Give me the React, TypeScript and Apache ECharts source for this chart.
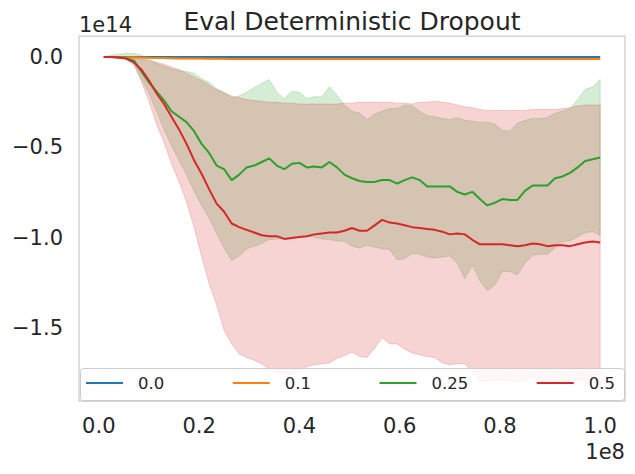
import React, { useEffect, useRef } from "react";
import * as echarts from "echarts";

// x positions (units of 1e8 env steps)
const STEPS = [
  0.010, 0.025, 0.040, 0.055, 0.070, 0.085, 0.100, 0.115, 0.130, 0.145,
  0.160, 0.175, 0.190, 0.205, 0.220, 0.235, 0.250, 0.265, 0.280, 0.295,
  0.310, 0.325, 0.340, 0.355, 0.370, 0.385, 0.400, 0.415, 0.430, 0.445,
  0.460, 0.475, 0.490, 0.505, 0.520, 0.535, 0.550, 0.565, 0.580, 0.595,
  0.610, 0.625, 0.640, 0.655, 0.670, 0.685, 0.700, 0.715, 0.730, 0.745,
  0.760, 0.775, 0.790, 0.805, 0.820, 0.835, 0.850, 0.865, 0.880, 0.895,
  0.910, 0.925, 0.940, 0.955, 0.970, 0.985, 1.000,
];

const CATEGORIES = ["0.0", "0.1", "0.25", "0.5"];
const COLORS = ["#1f77b4", "#ff7f0e", "#2ca02c", "#d62728"];

// values in units of 1e14
const MEAN_00 = [
  0, 0, 0, 0, 0, 0, 0, 0, 0, 0,
  0, 0, 0, 0, 0, 0, 0, 0, 0, 0,
  0, 0, 0, 0, 0, 0, 0, 0, 0, 0,
  0, 0, 0, 0, 0, 0, 0, 0, 0, 0,
  0, 0, 0, 0, 0, 0, 0, 0, 0, 0,
  0, 0, 0, 0, 0, 0, 0, 0, 0, 0,
  0, 0, 0, 0, 0, 0, 0,
];

const MEAN_01 = [
  0, 0, -0.001, -0.001, -0.002, -0.003, -0.004, -0.005, -0.006, -0.007,
  -0.008, -0.008, -0.009, -0.009, -0.010, -0.010, -0.010, -0.011, -0.011, -0.011,
  -0.011, -0.011, -0.011, -0.011, -0.011, -0.011, -0.011, -0.011, -0.011, -0.011,
  -0.011, -0.011, -0.011, -0.011, -0.011, -0.011, -0.011, -0.011, -0.011, -0.011,
  -0.011, -0.011, -0.011, -0.011, -0.011, -0.011, -0.011, -0.011, -0.011, -0.011,
  -0.011, -0.011, -0.011, -0.011, -0.011, -0.011, -0.011, -0.011, -0.011, -0.011,
  -0.011, -0.011, -0.011, -0.011, -0.011, -0.011, -0.011,
];
const UP_01 = [
  0, 0, 0, 0, 0, -0.001, -0.002, -0.003, -0.003, -0.004,
  -0.005, -0.005, -0.006, -0.006, -0.007, -0.007, -0.007, -0.008, -0.008, -0.008,
  -0.008, -0.008, -0.008, -0.008, -0.008, -0.008, -0.008, -0.008, -0.008, -0.008,
  -0.008, -0.008, -0.008, -0.008, -0.008, -0.008, -0.008, -0.008, -0.008, -0.008,
  -0.008, -0.008, -0.008, -0.008, -0.008, -0.008, -0.008, -0.008, -0.008, -0.008,
  -0.008, -0.008, -0.008, -0.008, -0.008, -0.008, -0.008, -0.008, -0.008, -0.008,
  -0.008, -0.008, -0.008, -0.008, -0.008, -0.008, -0.008,
];
const LO_01 = [
  0, 0, -0.002, -0.003, -0.004, -0.006, -0.007, -0.008, -0.009, -0.010,
  -0.011, -0.012, -0.013, -0.013, -0.014, -0.014, -0.015, -0.016, -0.016, -0.016,
  -0.016, -0.016, -0.016, -0.016, -0.016, -0.016, -0.016, -0.016, -0.016, -0.016,
  -0.016, -0.016, -0.016, -0.016, -0.016, -0.016, -0.016, -0.016, -0.016, -0.016,
  -0.016, -0.016, -0.016, -0.016, -0.016, -0.016, -0.016, -0.016, -0.016, -0.016,
  -0.016, -0.016, -0.016, -0.016, -0.016, -0.016, -0.016, -0.016, -0.016, -0.016,
  -0.016, -0.016, -0.016, -0.016, -0.016, -0.016, -0.016,
];

const MEAN_025 = [
  0, 0, -0.003, -0.006, -0.02, -0.08, -0.14, -0.19, -0.24, -0.30,
  -0.33, -0.36, -0.41, -0.48, -0.53, -0.60, -0.62, -0.68, -0.65, -0.61,
  -0.60, -0.58, -0.56, -0.60, -0.62, -0.59, -0.585, -0.61, -0.605, -0.61,
  -0.58, -0.61, -0.65, -0.67, -0.685, -0.69, -0.69, -0.68, -0.68, -0.70,
  -0.68, -0.665, -0.68, -0.715, -0.715, -0.715, -0.715, -0.745, -0.76, -0.745,
  -0.785, -0.82, -0.805, -0.785, -0.79, -0.79, -0.74, -0.71, -0.71, -0.71,
  -0.67, -0.66, -0.64, -0.61, -0.575, -0.565, -0.555,
];
const UP_025 = [
  0, 0.01, 0.015, 0.02, 0.02, 0.01, -0.01, -0.035, -0.05, -0.065,
  -0.075, -0.08, -0.09, -0.12, -0.14, -0.175, -0.195, -0.225, -0.215, -0.195,
  -0.17, -0.145, -0.125, -0.195, -0.23, -0.19, -0.195, -0.23, -0.22, -0.22,
  -0.165, -0.21, -0.265, -0.30, -0.31, -0.345, -0.315, -0.30, -0.285, -0.285,
  -0.265, -0.27, -0.30, -0.325, -0.33, -0.34, -0.345, -0.335, -0.35, -0.355,
  -0.36, -0.36, -0.37, -0.405, -0.41, -0.365, -0.35, -0.34, -0.34, -0.335,
  -0.31, -0.30, -0.285, -0.235, -0.18, -0.165, -0.125,
];
const LO_025 = [
  0, -0.003, -0.005, -0.01, -0.035, -0.12, -0.20, -0.30, -0.40, -0.49,
  -0.57, -0.65, -0.74, -0.82, -0.89, -0.975, -1.055, -1.125, -1.10, -1.06,
  -1.045, -1.03, -1.01, -1.005, -1.005, -1.00, -0.995, -0.99, -0.995, -1.005,
  -1.01, -1.015, -1.02, -1.045, -1.055, -1.04, -1.05, -1.06, -1.065, -1.12,
  -1.115, -1.085, -1.09, -1.105, -1.11, -1.105, -1.10, -1.14, -1.225, -1.15,
  -1.235, -1.29, -1.26, -1.185, -1.185, -1.205, -1.14, -1.095, -1.09, -1.09,
  -1.055, -1.02, -1.015, -0.995, -0.97, -0.965, -0.985,
];

const MEAN_05 = [
  0, 0, -0.003, -0.01, -0.03, -0.07, -0.13, -0.20, -0.26, -0.33,
  -0.40, -0.48, -0.57, -0.645, -0.73, -0.81, -0.855, -0.92, -0.94, -0.955,
  -0.97, -0.985, -0.99, -0.99, -1.005, -1.00, -0.995, -0.99, -0.98, -0.975,
  -0.97, -0.97, -0.96, -0.945, -0.96, -0.96, -0.93, -0.90, -0.915, -0.92,
  -0.93, -0.94, -0.945, -0.95, -0.955, -0.965, -0.98, -0.975, -0.98, -1.01,
  -1.035, -1.035, -1.035, -1.035, -1.04, -1.045, -1.04, -1.03, -1.035, -1.045,
  -1.04, -1.04, -1.045, -1.035, -1.025, -1.02, -1.025,
];
const UP_05 = [
  0, 0, 0, -0.003, -0.005, -0.01, -0.02, -0.03, -0.04, -0.055,
  -0.07, -0.09, -0.11, -0.13, -0.155, -0.18, -0.20, -0.215, -0.225, -0.235,
  -0.24, -0.245, -0.25, -0.25, -0.255, -0.255, -0.26, -0.26, -0.26, -0.26,
  -0.26, -0.26, -0.255, -0.255, -0.25, -0.25, -0.25, -0.25, -0.25, -0.255,
  -0.255, -0.26, -0.25, -0.25, -0.245, -0.25, -0.255, -0.265, -0.275, -0.28,
  -0.29, -0.295, -0.295, -0.295, -0.295, -0.295, -0.295, -0.29, -0.29, -0.29,
  -0.29, -0.285, -0.28, -0.27, -0.265, -0.265, -0.265,
];
const LO_05 = [
  0, -0.003, -0.005, -0.01, -0.045, -0.135, -0.245, -0.37, -0.47, -0.59,
  -0.69, -0.80, -0.94, -1.10, -1.25, -1.37, -1.51, -1.585, -1.64, -1.66,
  -1.675, -1.695, -1.725, -1.74, -1.75, -1.75, -1.73, -1.71, -1.70, -1.695,
  -1.69, -1.665, -1.65, -1.63, -1.655, -1.66, -1.61, -1.55, -1.585, -1.585,
  -1.615, -1.635, -1.645, -1.655, -1.66, -1.69, -1.70, -1.695, -1.695, -1.74,
  -1.79, -1.79, -1.785, -1.785, -1.79, -1.795, -1.785, -1.775, -1.78, -1.79,
  -1.795, -1.79, -1.785, -1.785, -1.785, -1.79, -1.795,
];

const X_TICKS = [0, 0.2, 0.4, 0.6, 0.8, 1.0];
const Y_TICKS = [0, -0.5, -1.0, -1.5];

const FONT = "DejaVu Sans";
const TEXT = "#262626";

function rgba(hex: string, a: number) {
  const n = parseInt(hex.slice(1), 16);
  return `rgba(${(n >> 16) & 255},${(n >> 8) & 255},${n & 255},${a})`;
}

function fmt(v: number) {
  return (v < 0 ? "\u2212" : "") + Math.abs(v).toFixed(1);
}

function lineSeries(name: string, values: number[], color: string) {
  return {
    type: "line",
    name,
    data: STEPS.map((x, i) => [x, values[i]]),
    showSymbol: false,
    symbol: "none",
    color,
    lineStyle: { color, width: 2 },
    emphasis: { disabled: true },
    silent: true,
  };
}

function bandSeries(name: string, up: number[], lo: number[], color: string) {
  return {
    type: "custom",
    name: name + " band",
    silent: true,
    data: [[STEPS[0], up[0]]],
    renderItem: (params: any, api: any) => {
      if (params.dataIndex !== 0) return null;
      const pts: number[][] = [];
      for (let i = 0; i < STEPS.length; i++) pts.push(api.coord([STEPS[i], up[i]]));
      for (let i = STEPS.length - 1; i >= 0; i--) pts.push(api.coord([STEPS[i], lo[i]]));
      return {
        type: "polygon",
        shape: { points: pts },
        style: { fill: rgba(color, 0.2), stroke: rgba(color, 0.2), lineWidth: 1 },
      };
    },
  };
}

export default function App() {
  const ref = useRef<HTMLDivElement>(null);
  useEffect(() => {
    if (!ref.current) return;
    const chart = echarts.init(ref.current, undefined, { renderer: "svg" });
    chart.setOption({
      animation: false,
      backgroundColor: "#ffffff",
      grid: {
        left: 79,
        top: 36,
        width: 546,
        height: 365,
        show: true,
        borderColor: "#cccccc",
        borderWidth: 1.25,
        containLabel: false,
      },
      xAxis: {
        type: "value",
        min: -0.0395,
        max: 1.0495,
        axisLine: { show: false },
        axisTick: { show: false },
        splitLine: { show: false },
        axisLabel: {
          customValues: X_TICKS,
          formatter: (v: number) => v.toFixed(1),
          fontSize: 21,
          fontFamily: FONT,
          color: TEXT,
          margin: 14,
        },
      },
      yAxis: {
        type: "value",
        min: -1.9006,
        max: 0.116,
        axisLine: { show: false },
        axisTick: { show: false },
        splitLine: { show: false },
        axisLabel: {
          customValues: Y_TICKS,
          formatter: (v: number) => fmt(v),
          fontSize: 21,
          fontFamily: FONT,
          color: TEXT,
          margin: 16,
          padding: [3, 0, 0, 0],
        },
      },
      legend: {
        data: CATEGORIES,
        left: 86,
        top: 373,
        padding: 0,
        icon: "rect",
        itemWidth: 37,
        itemHeight: 2,
        itemGap: 68.5,
        z: 200,
        selectedMode: false,
        textStyle: {
          fontSize: 16.5,
          fontFamily: FONT,
          color: TEXT,
          lineHeight: 20,
          padding: [0, 0, 0, 10],
        },
      },
      graphic: [
        {
          type: "rect",
          z: 100,
          shape: { x: 80.5, y: 368.5, width: 544, height: 32, r: 3 },
          style: { fill: "rgba(255,255,255,0.8)", stroke: "#cccccc", lineWidth: 1 },
          silent: true,
        },
        {
          type: "text",
          x: 352,
          y: 21,
          style: {
            text: "Eval Deterministic Dropout",
            fontSize: 25,
            fontFamily: FONT,
            fill: TEXT,
            textAlign: "center",
            textVerticalAlign: "middle",
          },
        },
        {
          type: "text",
          x: 79,
          y: 25,
          style: {
            text: "1e14",
            fontSize: 21,
            fontFamily: FONT,
            fill: TEXT,
            textAlign: "left",
            textVerticalAlign: "middle",
          },
        },
        {
          type: "text",
          x: 625,
          y: 452,
          style: {
            text: "1e8",
            fontSize: 21,
            fontFamily: FONT,
            fill: TEXT,
            textAlign: "right",
            textVerticalAlign: "middle",
          },
        },
      ],
      series: [
        lineSeries(CATEGORIES[0], MEAN_00, COLORS[0]),
        lineSeries(CATEGORIES[1], MEAN_01, COLORS[1]),
        bandSeries(CATEGORIES[1], UP_01, LO_01, COLORS[1]),
        lineSeries(CATEGORIES[2], MEAN_025, COLORS[2]),
        bandSeries(CATEGORIES[2], UP_025, LO_025, COLORS[2]),
        lineSeries(CATEGORIES[3], MEAN_05, COLORS[3]),
        bandSeries(CATEGORIES[3], UP_05, LO_05, COLORS[3]),
      ],
    });
    return () => chart.dispose();
  }, []);
  return (
    <div
      ref={ref}
      style={{ position: "fixed", left: 0, top: 0, width: 635, height: 474 }}
    />
  );
}
